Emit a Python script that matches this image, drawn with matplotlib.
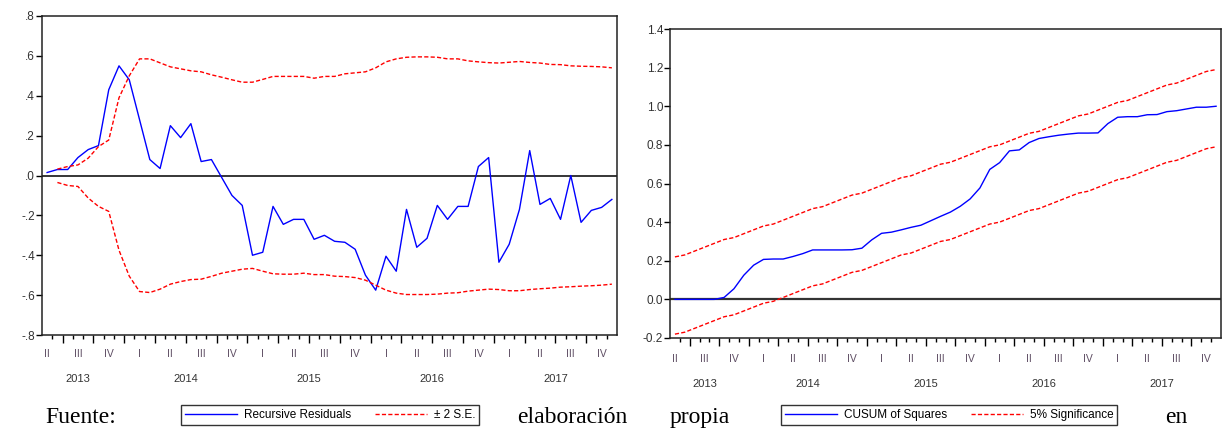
import numpy as np
import pandas as pd
import matplotlib
matplotlib.use("Agg")
import matplotlib.pyplot as plt
from matplotlib.lines import Line2D

# monthly sample, May 2013 - Dec 2017
months = pd.period_range("2013-05", periods=56, freq="M")

# recursive residuals and +/- 2 S.E. bands (first band value missing)
resid = [0.015, 0.03, 0.03, 0.09, 0.13, 0.15, 0.43, 0.55, 0.48, 0.28,
         0.08, 0.035, 0.25, 0.19, 0.26, 0.07, 0.08, -0.01, -0.10, -0.15,
         -0.40, -0.385, -0.155, -0.245, -0.22, -0.22, -0.32, -0.30, -0.33, -0.335,
         -0.37, -0.50, -0.575, -0.405, -0.48, -0.17, -0.36, -0.315, -0.15, -0.22,
         -0.155, -0.155, 0.045, 0.09, -0.435, -0.345, -0.17, 0.125, -0.145, -0.115,
         -0.22, 0.0, -0.235, -0.175, -0.16, -0.12]
se_upper = [np.nan, 0.032, 0.045, 0.053, 0.087, 0.145, 0.178, 0.39, 0.50, 0.585,
            0.585, 0.565, 0.545, 0.535, 0.525, 0.52, 0.505, 0.493, 0.48, 0.468,
            0.468, 0.482, 0.497, 0.497, 0.497, 0.497, 0.488, 0.497, 0.497, 0.51,
            0.515, 0.52, 0.54, 0.57, 0.585, 0.593, 0.595, 0.595, 0.593, 0.585,
            0.585, 0.575, 0.57, 0.566, 0.564, 0.568, 0.572, 0.567, 0.564, 0.557,
            0.556, 0.55, 0.548, 0.547, 0.545, 0.54]
se_lower = [np.nan, -0.035, -0.05, -0.055, -0.113, -0.155, -0.18, -0.375, -0.505, -0.582,
            -0.587, -0.57, -0.545, -0.532, -0.522, -0.52, -0.506, -0.49, -0.48, -0.47,
            -0.466, -0.48, -0.493, -0.495, -0.495, -0.49, -0.497, -0.497, -0.505, -0.507,
            -0.512, -0.525, -0.55, -0.575, -0.59, -0.597, -0.597, -0.597, -0.595, -0.59,
            -0.588, -0.58, -0.575, -0.57, -0.572, -0.578, -0.578, -0.572, -0.568, -0.565,
            -0.56, -0.558, -0.555, -0.553, -0.55, -0.545]

# CUSUM of squares and 5% significance bands
cusumsq = [0, 0, 0, 0, 0, 0.01, 0.055, 0.125, 0.177, 0.207,
           0.209, 0.209, 0.222, 0.237, 0.256, 0.256, 0.256, 0.256, 0.257, 0.265,
           0.308, 0.342, 0.348, 0.36, 0.373, 0.384, 0.407, 0.43, 0.452, 0.482,
           0.52, 0.577, 0.673, 0.708, 0.769, 0.774, 0.812, 0.833, 0.842, 0.85,
           0.856, 0.861, 0.861, 0.862, 0.91, 0.943, 0.946, 0.946, 0.956, 0.957,
           0.972, 0.977, 0.986, 0.995, 0.995, 1.0]
sig_upper = [0.22, 0.23, 0.25, 0.27, 0.29, 0.31, 0.32, 0.34, 0.36, 0.38,
             0.39, 0.41, 0.43, 0.45, 0.47, 0.48, 0.50, 0.52, 0.54, 0.55,
             0.57, 0.59, 0.61, 0.63, 0.64, 0.66, 0.68, 0.70, 0.71, 0.73,
             0.75, 0.77, 0.79, 0.80, 0.82, 0.84, 0.86, 0.87, 0.89, 0.91,
             0.93, 0.95, 0.96, 0.98, 1.00, 1.02, 1.03, 1.05, 1.07, 1.09,
             1.11, 1.12, 1.14, 1.16, 1.18, 1.19]
sig_lower = [-0.18, -0.17, -0.15, -0.13, -0.11, -0.09, -0.08, -0.06, -0.04, -0.02,
             -0.01, 0.01, 0.03, 0.05, 0.07, 0.08, 0.10, 0.12, 0.14, 0.15,
             0.17, 0.19, 0.21, 0.23, 0.24, 0.26, 0.28, 0.30, 0.31, 0.33,
             0.35, 0.37, 0.39, 0.40, 0.42, 0.44, 0.46, 0.47, 0.49, 0.51,
             0.53, 0.55, 0.56, 0.58, 0.60, 0.62, 0.63, 0.65, 0.67, 0.69,
             0.71, 0.72, 0.74, 0.76, 0.78, 0.79]

left_yticks = [0.8, 0.6, 0.4, 0.2, 0.0, -0.2, -0.4, -0.6, -0.8]
left_ylabels = [".8", ".6", ".4", ".2", ".0", "-.2", "-.4", "-.6", "-.8"]
right_yticks = [1.4, 1.2, 1.0, 0.8, 0.6, 0.4, 0.2, 0.0, -0.2]
right_ylabels = ["1.4", "1.2", "1.0", "0.8", "0.6", "0.4", "0.2", "0.0", "-0.2"]
roman = {1: "I", 2: "II", 3: "III", 4: "IV"}

BLUE = "#0000ff"
RED = "#ff0000"
DASH = (0, (3, 1.6))
TXT = "#333333"
QTXT = "#5e4d63"

plt.rcParams["font.family"] = ["Liberation Sans", "DejaVu Sans"]

fig = plt.figure(figsize=(12.23, 4.29), dpi=100)
ax1 = fig.add_axes([42 / 1223, 1 - 335 / 429, 575 / 1223, 319 / 429])
ax2 = fig.add_axes([670 / 1223, 1 - 338 / 429, 551 / 1223, 309 / 429])

n = len(months)
x = np.arange(n) + 0.5

# quarter and year positions on the month axis
qinfo = {}
for i, p in enumerate(months):
    key = (p.year, p.quarter)
    qstart = i - (p.month - 1) % 3
    qinfo[key] = qstart
qkeys = sorted(qinfo)
qstarts = [qinfo[k] for k in qkeys]
qcenters = [s + 1.5 for s in qstarts]
years = sorted(set(k[0] for k in qkeys))
ycenters = [np.mean([c for k, c in zip(qkeys, qcenters) if k[0] == y]) for y in years]


def month_axis(ax, qoff, yoff):
    ax.set_xlim(0, n)
    ax.set_xticks([s for s in qstarts if 0 < s < n])
    ax.set_xticks(np.arange(1, n), minor=True)
    ax.tick_params(axis="x", which="major", length=6, width=1, direction="out", labelbottom=False)
    ax.tick_params(axis="x", which="minor", length=3, width=1, direction="out")
    for k, c in zip(qkeys, qcenters):
        ax.annotate(roman[k[1]], (c, 0), xycoords=("data", "axes fraction"),
                    xytext=(0, qoff), textcoords="offset points",
                    ha="center", va="center", fontsize=7.5, color=QTXT)
    for yr, c in zip(years, ycenters):
        ax.annotate(str(yr), (c, 0), xycoords=("data", "axes fraction"),
                    xytext=(0, yoff), textcoords="offset points",
                    ha="center", va="center", fontsize=8, color=TXT)
    for s in ax.spines.values():
        s.set_linewidth(1.1)
        s.set_color("#222222")
    ax.tick_params(axis="y", which="major", length=4, width=1, direction="out",
                   labelsize=8.5, labelcolor=TXT, pad=1)


# left: recursive residuals
ax1.plot(x, resid, color=BLUE, lw=1.0)
ax1.plot(x, se_upper, color=RED, lw=1.0, linestyle=DASH)
ax1.plot(x, se_lower, color=RED, lw=1.0, linestyle=DASH)
ax1.axhline(0, color="black", lw=1.1, zorder=1)
ax1.set_ylim(-0.8, 0.8)
ax1.set_yticks(left_yticks)
ax1.set_yticklabels(left_ylabels)
month_axis(ax1, -14, -32)

# right: CUSUM of squares
ax2.plot(x, cusumsq, color=BLUE, lw=1.0)
ax2.plot(x, sig_upper, color=RED, lw=1.0, linestyle=DASH)
ax2.plot(x, sig_lower, color=RED, lw=1.0, linestyle=DASH)
ax2.axhline(0, color="#333333", lw=1.6, zorder=1)
ax2.set_ylim(-0.2, 1.4)
ax2.set_yticks(right_yticks)
ax2.set_yticklabels(right_ylabels)
month_axis(ax2, -15, -33)

# legends below each chart
h_blue = Line2D([], [], color=BLUE, lw=1.0)
h_red = Line2D([], [], color=RED, lw=1.0, linestyle=DASH)
leg_kw = dict(ncol=2, loc="center", fontsize=8.5, frameon=True, fancybox=False,
              edgecolor="black", handlelength=4.4, handletextpad=0.6,
              columnspacing=2.0, borderpad=0.35)
leg1 = fig.legend([h_blue, h_red], ["Recursive Residuals", "\u00b1 2 S.E."],
                  bbox_to_anchor=(330 / 1223, 1 - 415 / 429), **leg_kw)
leg1.get_frame().set_linewidth(1.0)
leg2 = fig.legend([h_blue, h_red], ["CUSUM of Squares", "5% Significance"],
                  bbox_to_anchor=(949 / 1223, 1 - 415 / 429), **leg_kw)
leg2.get_frame().set_linewidth(1.0)

# surrounding document text
serif = ["Liberation Serif", "DejaVu Serif"]
fig.text(45 / 1223, 1 - 423 / 429, "Fuente:", fontsize=17, family=serif, va="baseline")
fig.text(517 / 1223, 1 - 423 / 429, "elaboración", fontsize=17, family=serif, va="baseline")
fig.text(670 / 1223, 1 - 423 / 429, "propia", fontsize=17, family=serif, va="baseline")
fig.text(1165 / 1223, 1 - 423 / 429, "en", fontsize=17, family=serif, va="baseline")

fig.savefig("out.png", dpi=100)
